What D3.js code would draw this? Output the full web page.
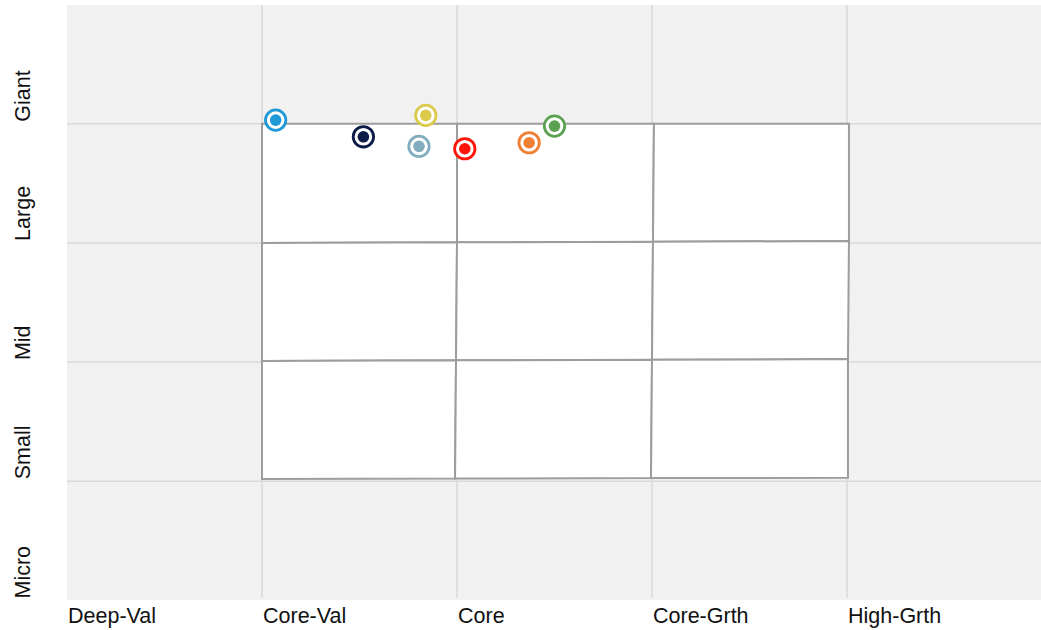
<!DOCTYPE html>
<html>
<head>
<meta charset="utf-8">
<script src="https://cdn.jsdelivr.net/npm/d3@7"></script>
<style>
  html, body { margin: 0; padding: 0; background: #ffffff; }
  svg { display: block; }
  text { font-family: "Liberation Sans", Arial, sans-serif; fill: #111; }
</style>
</head>
<body>
<svg id="chart" width="1041" height="630"></svg>
<script>
// ---- data ----
const xCategories = ["Deep-Val", "Core-Val", "Core", "Core-Grth", "High-Grth"];
const yCategories = ["Micro", "Small", "Mid", "Large", "Giant"];

const pointNames  = ["A", "B", "C", "D", "E", "F", "G"];
const pointX      = [1.07, 1.52, 1.84, 1.805, 2.04, 2.37, 2.50];
const pointY      = [4.03, 3.89, 4.07, 3.81, 3.79, 3.84, 3.98];
const pointColors = ["#1f9ad6", "#0b1a46", "#dccb4b", "#82adbf", "#ff1408", "#ee7f33", "#5ba151"];

// style-box (ownership zone) grid vertices: rows top→bottom, columns left→right, [x, y]
const boxRows = [
  [[1.00, 4.00], [2.00, 4.00], [3.01, 4.00], [4.01, 4.00]],
  [[1.00, 3.00], [2.00, 3.005], [3.005, 3.01], [4.01, 3.015]],
  [[1.00, 2.01], [1.995, 2.015], [3.00, 2.02], [4.005, 2.025]],
  [[1.00, 1.02], [1.99, 1.023], [2.995, 1.027], [4.005, 1.03]]
];

// ---- layout ----
const svg = d3.select("#chart");
const plotLeft = 67, plotRight = 1042, plotTop = 4.5, plotBottom = 600.5;

const x = d3.scaleLinear().domain([0, 5]).range([plotLeft, plotRight]);
const y = d3.scaleLinear().domain([0, 5]).range([plotBottom, plotTop]);

// background
svg.append("rect")
  .attr("x", plotLeft).attr("y", 5)
  .attr("width", 1041 - plotLeft).attr("height", 595)
  .attr("fill", "#f1f1f1");

// gridlines
const gridTicks = [1, 2, 3, 4];
svg.append("g").selectAll("line").data(gridTicks).join("line")
  .attr("x1", d => x(d)).attr("x2", d => x(d))
  .attr("y1", 5).attr("y2", 598)
  .attr("stroke", "#d9d9d9").attr("stroke-width", 1.5);
svg.append("g").selectAll("line").data(gridTicks).join("line")
  .attr("x1", plotLeft).attr("x2", 1041)
  .attr("y1", d => y(d)).attr("y2", d => y(d))
  .attr("stroke", "#d9d9d9").attr("stroke-width", 1.5);

// style box cells
const cells = [];
for (let r = 0; r < 3; r++) {
  for (let c = 0; c < 3; c++) {
    cells.push([boxRows[r][c], boxRows[r][c + 1], boxRows[r + 1][c + 1], boxRows[r + 1][c]]);
  }
}
const line = d3.line().x(d => x(d[0])).y(d => y(d[1]));
svg.append("g").selectAll("path").data(cells).join("path")
  .attr("d", d => line(d) + "Z")
  .attr("fill", "#ffffff")
  .attr("stroke", "#9d9d9d")
  .attr("stroke-width", 2)
  .attr("stroke-linejoin", "miter");

// x labels
svg.append("g").selectAll("text").data(xCategories).join("text")
  .attr("x", (d, i) => x(i) + 1)
  .attr("y", 623)
  .attr("font-size", 21.5)
  .attr("text-anchor", "start")
  .text(d => d);

// y labels
svg.append("g").selectAll("text").data(yCategories).join("text")
  .attr("transform", (d, i) => `translate(30,${y(i) - 2}) rotate(-90)`)
  .attr("font-size", 21.5)
  .attr("text-anchor", "start")
  .text(d => d);

// points
const pts = pointNames.map((n, i) => ({ n, x: pointX[i], y: pointY[i], c: pointColors[i] }));
const g = svg.append("g").selectAll("g").data(pts).join("g")
  .attr("transform", d => `translate(${x(d.x)},${y(d.y)})`);
g.append("circle").attr("r", 10.2)
  .attr("fill", "#ffffff").attr("stroke", d => d.c).attr("stroke-width", 2.8);
g.append("circle").attr("r", 5.8).attr("fill", d => d.c);
</script>
</body>
</html>
